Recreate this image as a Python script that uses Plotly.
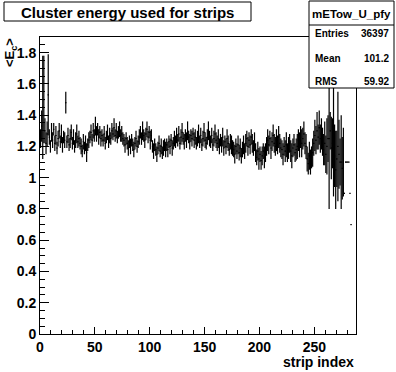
import numpy as np
import plotly.graph_objects as go

# ---------------- data (TProfile mETow_U_pfy, 288 strips) ----------------
N_BINS = 288

v_000_007 = [1.25, 1.33, 1.45, 1.50, 1.30, 1.22, 1.28, 1.53]
e_000_007 = [0.06, 0.10, 0.33, 0.28, 0.08, 0.07, 0.08, 0.26]
v_008_022 = [1.26, 1.20, 1.29, 1.24, 1.31, 1.22, 1.27, 1.19, 1.25, 1.30, 1.23, 1.28, 1.21, 1.26, 1.24]
e_008_022 = [.05, .04, .06, .05, .04, .05, .06, .04, .05, .05, .04, .06, .05, .04, .05]
v_023 = [1.48]
e_023 = [0.07]
v_024_036 = [1.23, 1.27, 1.21, 1.25, 1.29, 1.22, 1.26, 1.20, 1.24, 1.28, 1.23, 1.25, 1.22]
e_024_036 = [.04, .05, .04, .06, .05, .04, .05, .04, .05, .06, .04, .05, .04]
v_037_044 = [1.20, 1.17, 1.23, 1.19, 1.22, 1.16, 1.21, 1.24]
e_037_044 = [.05, .04, .05, .04, .05, .06, .04, .05]
v_045_056 = [1.26, 1.29, 1.24, 1.30, 1.27, 1.33, 1.28, 1.31, 1.26, 1.29, 1.25, 1.27]
e_045_056 = [.04, .05, .04, .05, .04, .06, .05, .04, .05, .04, .05, .04]
v_057_075 = [1.24, 1.28, 1.22, 1.26, 1.29, 1.23, 1.27, 1.25, 1.30, 1.28, 1.32, 1.27, 1.30, 1.26, 1.29, 1.31, 1.27, 1.28, 1.25]
e_057_075 = [.04, .05, .04, .04, .05, .04, .05, .04, .05, .04, .06, .04, .05, .04, .04, .05, .04, .05, .04]
v_076_089 = [1.24, 1.21, 1.25, 1.22, 1.19, 1.23, 1.20, 1.24, 1.21, 1.18, 1.22, 1.25, 1.20, 1.23]
e_076_089 = [.04, .05, .04, .04, .05, .04, .05, .04, .04, .05, .04, .05, .04, .04]
v_090_101 = [1.26, 1.29, 1.25, 1.30, 1.27, 1.24, 1.28, 1.31, 1.26, 1.29, 1.24, 1.27]
e_090_101 = [.05, .04, .04, .06, .04, .05, .04, .05, .04, .04, .06, .04]
v_102_114 = [1.20, 1.17, 1.21, 1.18, 1.15, 1.19, 1.22, 1.17, 1.20, 1.16, 1.19, 1.21, 1.18]
e_102_114 = [.04, .05, .04, .04, .05, .04, .05, .04, .05, .04, .05, .04, .05]
v_115_122 = [1.21, 1.18, 1.23, 1.20, 1.24, 1.19, 1.22, 1.25]
e_115_122 = [.04, .05, .04, .05, .04, .05, .04, .05]
v_123_140 = [1.23, 1.27, 1.24, 1.28, 1.22, 1.26, 1.29, 1.25, 1.23, 1.27, 1.24, 1.30, 1.26, 1.23, 1.27, 1.25, 1.28, 1.24]
e_123_140 = [.04, .05, .04, .05, .04, .05, .06, .04, .05, .04, .05, .06, .04, .05, .04, .05, .04, .05]
v_141_160 = [1.26, 1.22, 1.25, 1.28, 1.23, 1.27, 1.21, 1.25, 1.29, 1.24, 1.22, 1.26, 1.30, 1.25, 1.23, 1.27, 1.21, 1.25, 1.28, 1.24]
e_141_160 = [.05, .04, .05, .06, .04, .05, .04, .05, .06, .05, .04, .05, .06, .05, .04, .05, .04, .05, .06, .05]
v_161_175 = [1.22, 1.25, 1.20, 1.24, 1.21, 1.26, 1.19, 1.23, 1.20, 1.25, 1.22, 1.18, 1.23, 1.21, 1.19]
e_161_175 = [.05, .06, .05, .04, .05, .06, .05, .04, .05, .06, .05, .04, .05, .06, .05]
v_176_186 = [1.18, 1.15, 1.20, 1.17, 1.21, 1.16, 1.19, 1.14, 1.18, 1.21, 1.17]
e_176_186 = [.05, .06, .05, .05, .06, .05, .06, .05, .05, .06, .05]
v_187_195 = [1.22, 1.25, 1.20, 1.24, 1.21, 1.26, 1.22, 1.19, 1.23]
e_187_195 = [.06, .05, .06, .05, .06, .05, .06, .05, .06]
v_196_205 = [1.16, 1.13, 1.17, 1.12, 1.15, 1.11, 1.14, 1.17, 1.13, 1.16]
e_196_205 = [.06, .05, .06, .07, .05, .06, .06, .05, .07, .06]
v_206_219 = [1.20, 1.24, 1.21, 1.25, 1.19, 1.23, 1.27, 1.22, 1.20, 1.24, 1.21, 1.26, 1.22, 1.19]
e_206_219 = [.06, .07, .06, .05, .07, .06, .07, .06, .06, .07, .06, .07, .06, .06]
v_220_234 = [1.18, 1.15, 1.20, 1.17, 1.21, 1.16, 1.19, 1.22, 1.17, 1.14, 1.19, 1.21, 1.16, 1.18, 1.20]
e_220_234 = [.06, .07, .06, .07, .08, .06, .07, .06, .07, .08, .06, .07, .06, .07, .08]
v_235_242 = [1.24, 1.21, 1.26, 1.22, 1.25, 1.28, 1.22, 1.20]
e_235_242 = [.07, .08, .07, .09, .07, .08, .07, .08]
v_243_248 = [1.12, 1.09, 1.14, 1.10, 1.13, 1.16]
e_243_248 = [.08, .07, .09, .08, .07, .09]
v_249_257 = [1.22, 1.27, 1.24, 1.30, 1.26, 1.32, 1.25, 1.28, 1.23]
e_249_257 = [.08, .10, .09, .12, .08, .11, .09, .10, .09]
v_258_266 = [1.18, 1.22, 1.15, 1.20, 1.25, 1.25, 1.30, 1.19, 1.22]
e_258_266 = [.10, .14, .12, .18, .15, .45, .12, .20, .16]
v_267_276 = [1.30, 1.14, 1.05, 1.12, 1.20, 1.15, 1.10, 1.10, 1.06, 1.10]
e_267_276 = [.42, .20, .25, .18, .35, .22, .15, .30, .20, .22]
v_277_283 = [0.90, 1.10, 1.10, 1.10, 1.10, 0.90, 0.70]
e_277_283 = [0, 0, 0, 0, 0, 0, 0]
v_284_287 = [None, None, None, None]
e_284_287 = [None, None, None, None]

mean_E = (v_000_007 + v_008_022 + v_023 + v_024_036 + v_037_044 + v_045_056 + v_057_075
          + v_076_089 + v_090_101 + v_102_114 + v_115_122 + v_123_140 + v_141_160
          + v_161_175 + v_176_186 + v_187_195 + v_196_205 + v_206_219 + v_220_234
          + v_235_242 + v_243_248 + v_249_257 + v_258_266 + v_267_276 + v_277_283 + v_284_287)
err_E = (e_000_007 + e_008_022 + e_023 + e_024_036 + e_037_044 + e_045_056 + e_057_075
         + e_076_089 + e_090_101 + e_102_114 + e_115_122 + e_123_140 + e_141_160
         + e_161_175 + e_176_186 + e_187_195 + e_196_205 + e_206_219 + e_220_234
         + e_235_242 + e_243_248 + e_249_257 + e_258_266 + e_267_276 + e_277_283 + e_284_287)
assert len(mean_E) == N_BINS and len(err_E) == N_BINS

strip = np.arange(N_BINS) + 0.5   # bin centres

title_text = "Cluster energy used for strips"
stats_name = "mETow_U_pfy"
stats_rows = [("Entries", "36397"), ("Mean", "101.2"), ("RMS", "59.92")]
x_title = "strip index"
y_title = "&lt;E<sub>c</sub>&gt;"

# ---------------- layout geometry (pixels) ----------------
W, H = 396, 372
L, R, T, B = 40, 356, 37, 334
FONT = "Liberation Sans"


def px(xp):
    return (xp - L) / (R - L)


def py(yp):
    return (B - yp) / (B - T)


fig = go.Figure()
fig.add_trace(go.Scatter(
    x=strip, y=mean_E, mode="markers",
    marker=dict(size=1, color="black"),
    error_y=dict(type="data", array=[e if e is not None else 0 for e in err_E],
                 visible=True, width=0, thickness=1.2, color="black"),
    error_x=dict(type="constant", value=0.5, visible=True, width=0, thickness=1.2, color="black"),
    showlegend=False, hoverinfo="skip",
))

tickfont = dict(family=FONT, size=14, color="black", weight="bold")
fig.update_xaxes(
    range=[0, N_BINS], dtick=50, tick0=0, ticks="inside", ticklen=7, tickwidth=1,
    tickcolor="black", showgrid=False, zeroline=False, showline=True, linecolor="black",
    linewidth=1, mirror=True, tickfont=tickfont,
    minor=dict(dtick=10, ticks="inside", ticklen=4, tickcolor="black", showgrid=False),
)
fig.update_yaxes(
    range=[0, 1.9], dtick=0.2, tick0=0, ticks="inside", ticklen=9, tickwidth=1,
    tickcolor="black", showgrid=False, zeroline=False, showline=True, linecolor="black",
    linewidth=1, mirror=True, tickfont=tickfont,
    minor=dict(dtick=0.05, ticks="inside", ticklen=5, tickcolor="black", showgrid=False),
)

shapes = [
    # title box
    dict(type="rect", xref="paper", yref="paper", x0=px(4), x1=px(251), y0=py(21), y1=py(2),
         line=dict(color="black", width=1), fillcolor="white", layer="above"),
    # stats box
    dict(type="rect", xref="paper", yref="paper", x0=px(309), x1=px(394), y0=py(88), y1=py(1),
         line=dict(color="black", width=1), fillcolor="white", layer="above"),
    dict(type="line", xref="paper", yref="paper", x0=px(309), x1=px(394), y0=py(25), y1=py(25),
         line=dict(color="black", width=1), layer="above"),
]

ann = [
    dict(text=f"<b>{title_text}</b>", x=px(127.5), y=py(12), xanchor="center", yanchor="middle",
         font=dict(family=FONT, size=15, color="black")),
    dict(text=f"<b>{stats_name}</b>", x=px(351), y=py(14), xanchor="center", yanchor="middle",
         font=dict(family=FONT, size=11.5, color="black")),
    dict(text=f"<b>{x_title}</b>", x=px(356), y=py(362), xanchor="right", yanchor="middle",
         font=dict(family=FONT, size=14, color="black")),
    dict(text=f"<b>{y_title}</b>", x=px(11), y=py(53), xanchor="center", yanchor="middle",
         textangle=-90, font=dict(family=FONT, size=13, color="black")),
]
row_y = [34, 58.5, 81]
for (lab, val), yy in zip(stats_rows, row_y):
    ann.append(dict(text=f"<b>{lab}</b>", x=px(313), y=py(yy), xanchor="left", yanchor="middle",
                    font=dict(family=FONT, size=10, color="black")))
    ann.append(dict(text=f"<b>{val}</b>", x=px(391), y=py(yy), xanchor="right", yanchor="middle",
                    font=dict(family=FONT, size=10, color="black")))
for a in ann:
    a.update(xref="paper", yref="paper", showarrow=False)

fig.update_layout(
    width=W, height=H, margin=dict(l=L, r=W - R, t=T, b=H - B, pad=0),
    paper_bgcolor="white", plot_bgcolor="white",
    shapes=shapes, annotations=ann, showlegend=False,
)

# remove the browser's default 8px body margin so the figure fills the window exactly
fig.write_html(
    "out.html",
    config={"displayModeBar": False, "staticPlot": True},
    post_script="document.body.style.margin='0';document.body.style.overflow='hidden';",
)
